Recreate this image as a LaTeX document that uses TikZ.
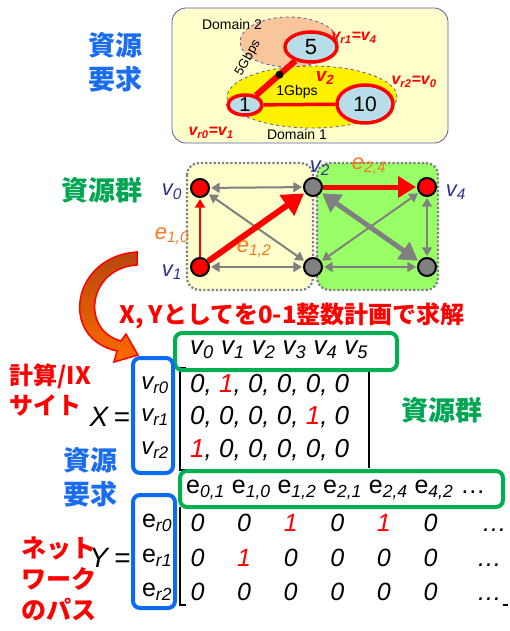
\documentclass[tikz,border=0pt]{standalone}
\usepackage{fontspec}
\setmainfont{Liberation Sans}
\newfontfamily\jp{Noto Sans CJK JP}
\usetikzlibrary{shapes.geometric, arrows.meta, positioning}

\definecolor{panelfill}{HTML}{FFFFCC}
\definecolor{panelline}{HTML}{5B5BA8}
\definecolor{dtwofill}{HTML}{F9C59B}
\definecolor{sitefill}{HTML}{B7DDE8}
\definecolor{vblue}{HTML}{2E3192}
\definecolor{eorange}{HTML}{F7791E}
\definecolor{grpgreen}{HTML}{99FF66}
\definecolor{edgegray}{HTML}{808080}
\definecolor{jblue}{HTML}{1A6CF2}
\definecolor{jgreen}{HTML}{00A651}
\definecolor{boxgreen}{HTML}{00B050}
\definecolor{boxblue}{HTML}{0A6CF5}
\definecolor{arrowtop}{HTML}{B5470F}
\definecolor{arrowbot}{HTML}{FF6A00}

\newcommand{\fsz}[1]{\fontsize{#1}{\fpeval{1.25*#1}}\selectfont}
\newcommand{\vsub}[2]{\textit{#1}\textsubscript{\textit{#2}}}
\newcommand{\esub}[1]{e\textsubscript{\textit{#1}}}
\newcommand{\one}{\textcolor{red}{1}}
\newcommand{\ycell}[1]{\makebox[46.6pt]{#1}}

\begin{document}
\begin{tikzpicture}[x=1pt, y=-1pt, >=Triangle]
    \tikzset{
        site/.style={ellipse, draw=red, line width=3.5pt, fill=sitefill, inner sep=0pt},
        dom/.style={ellipse, draw=panelline, dashed, line width=0.8pt},
        vx/.style={circle, draw=black, line width=2pt, minimum size=18pt, inner sep=0pt},
        grp/.style={draw=edgegray, dotted, line width=2.2pt, rounded corners=12pt},
        gedge/.style={<->, draw=edgegray, line width=2pt, shorten >=1pt, shorten <=1pt},
        redge/.style={->, draw=red, shorten >=1pt},
        redlab/.style={text=red, font=\bfseries\itshape\fsz{16}},
        vlab/.style={text=vblue, font=\itshape\fsz{22}},
        elab/.style={text=eorange, font=\itshape\fsz{22}},
        jtext/.style={font=\jp\bfseries\fsz{27}, align=center},
        mtx/.style={font=\itshape\fsz{26}, anchor=west, inner sep=0pt},
        bbox/.style={draw=boxblue, line width=4pt, rounded corners=7pt},
        gbox/.style={draw=boxgreen, line width=4pt, rounded corners=7pt},
        brk/.style={draw=black, line width=1.5pt},
    }
    \useasboundingbox (0,0) rectangle (509,631);

    % resource request
    \draw[panelline, fill=panelfill, rounded corners=14pt, line width=0.8pt] (172,8) rectangle (448,143);
    \node[dom, fill=dtwofill, minimum width=98pt, minimum height=50pt] (d2) at (289,42) {};
    \node[dom, fill=yellow, minimum width=170pt, minimum height=62pt] (d1) at (312,97) {};
    \node[font=\fsz{14}] (d2lab) at (232,24) {Domain 2};
    \node[font=\fsz{14}] (d1lab) at (297,134) {Domain 1};
    \node[site, minimum width=52pt, minimum height=30pt, font=\fsz{22}] (s5) at (311,47) {5};
    \node[site, minimum width=34pt, minimum height=20pt, font=\fsz{20}] (s1) at (245,105) {1};
    \node[site, minimum width=56pt, minimum height=38pt, font=\fsz{21}] (s10) at (365,104) {10};
    \draw[red, line width=6pt] (s1) -- node[pos=0.6, circle, fill=black, minimum size=8pt, inner sep=0pt] (gw) {} (s5);
    \draw[red, line width=3.5pt] (s1) -- (s10);
    \node[font=\fsz{13}, rotate=60, inner sep=1pt] (bw5) at (248,58) {5Gbps};
    \node[font=\fsz{14}] (bw1) at (297,92) {1Gbps};
    \node[redlab, anchor=west] (m1) at (328,38) {\vsub{v}{r1}=\vsub{v}{4}};
    \node[redlab, anchor=west] (m2) at (388,82) {\vsub{v}{r2}=\vsub{v}{0}};
    \node[redlab] (m0) at (211,133) {\vsub{v}{r0}=\vsub{v}{1}};
    \node[redlab, font=\bfseries\itshape\fsz{19}] (mv2) at (325,78) {\vsub{v}{2}};
    \node[jtext, text=jblue] (req) at (115,62) {資源\\要求};

    % resource pool
    \draw[grp, fill=panelfill] (187,163) rectangle (313,290);
    \draw[grp, fill=grpgreen] (317,163) rectangle (438,290);
    \node[vx, fill=red] (n0) at (200,188) {};
    \node[vx, fill=red] (n1) at (200,267) {};
    \node[vx, fill=edgegray] (n2) at (313,187) {};
    \node[vx, fill=edgegray] (n3) at (313,267) {};
    \node[vx, fill=red] (n4) at (427,187) {};
    \node[vx, fill=edgegray] (n5) at (427,267) {};
    \draw[gedge] (n0) -- (n2);
    \draw[gedge] (n1) -- (n3);
    \draw[gedge] (n3) -- (n5);
    \draw[gedge] (n0) -- (n3);
    \draw[gedge] (n3) -- (n4);
    \draw[gedge] (n4) -- (n5);
    \draw[gedge, line width=5pt] (n2) -- (n5);
    \draw[redge, line width=2pt] (n1) -- (n0);
    \draw[redge, line width=6pt] (n1) -- (n2);
    \draw[redge, line width=5pt] (n2) -- (n4);
    \node[vlab] (l0) at (172,192) {\vsub{v}{0}};
    \node[vlab] (l1) at (172,272) {\vsub{v}{1}};
    \node[vlab] (l2) at (320,168) {\vsub{v}{2}};
    \node[vlab] (l4) at (456,192) {\vsub{v}{4}};
    \node[elab] (e10) at (172,236) {\vsub{e}{1,0}};
    \node[elab] (e12) at (254,249) {\vsub{e}{1,2}};
    \node[elab] (e24) at (369,166) {\vsub{e}{2,4}};
    \node[jtext, text=jgreen] (pool) at (102,190) {資源群};

    % solve
    \draw[red, line width=1.5pt, top color=arrowtop, bottom color=arrowbot]
        (137,252) .. controls (72,256) and (58,338) .. (117,351)
        -- (114,362) -- (138,355) -- (126,334) -- (121,341)
        .. controls (80,330) and (88,268) .. (137,265) -- cycle;
    \node[jtext, text=red, font=\jp\bfseries\fsz{24}] (title) at (292,316) {X, Yとしてを0-1整数計画で求解};

    % matrix X
    \draw[brk] (186,368) -- (180,368) -- (180,470) -- (186,470);
    \draw[brk] (369,372) -- (369,468);
    \draw[gbox] (175,333) rectangle (397,370);
    \draw[bbox] (133,358) rectangle (173,473);
    \node[mtx] (xh) at (190,350) {\vsub{v}{0} \vsub{v}{1} \vsub{v}{2} \vsub{v}{3} \vsub{v}{4} \vsub{v}{5}};
    \node[font=\itshape\fsz{24}] (xr0) at (155,385) {\vsub{v}{r0}};
    \node[font=\itshape\fsz{24}] (xr1) at (155,417) {\vsub{v}{r1}};
    \node[font=\itshape\fsz{24}] (xr2) at (155,450) {\vsub{v}{r2}};
    \node[mtx] (x0) at (190,385) {0, \one, 0, 0, 0, 0};
    \node[mtx] (x1) at (190,417) {0, 0, 0, 0, \one, 0};
    \node[mtx] (x2) at (190,450) {\one, 0, 0, 0, 0, 0};
    \node[font=\fsz{28}] (xeq) at (110,417) {\textit{X}\,=};
    \node[jtext, text=red, align=left, anchor=west, font=\jp\bfseries\fsz{24}] (site) at (6,390) {計算/IX\\サイト};
    \node[jtext, text=jgreen] (pool2) at (442,410) {資源群};
    \node[jtext, text=jblue] (req2) at (90,477) {資源\\要求};

    % matrix Y
    \draw[brk] (180,507) -- (180,605) -- (186,605);
    \draw[brk] (503,605) -- (508,605);
    \draw[gbox] (180,471) rectangle (503,507);
    \draw[bbox] (133,495) rectangle (175,608);
    \node[mtx, font=\fsz{25}] (yh) at (186,490) {\esub{0,1} \esub{1,0} \esub{1,2} \esub{2,1} \esub{2,4} \esub{4,2} \ldots};
    \node[font=\fsz{25}] (yr0) at (157,523) {\esub{r0}};
    \node[font=\fsz{25}] (yr1) at (157,558) {\esub{r1}};
    \node[font=\fsz{25}] (yr2) at (157,592) {\esub{r2}};
    \node[mtx, font=\itshape\fsz{25}] (y0) at (174,523) {\ycell{0}\ycell{0}\ycell{\one}\ycell{0}\ycell{\one}\ycell{0}\hspace{28pt}\ldots};
    \node[mtx, font=\itshape\fsz{25}] (y1) at (174,558) {\ycell{0}\ycell{\one}\ycell{0}\ycell{0}\ycell{0}\ycell{0}\hspace{23pt}\ldots};
    \node[mtx, font=\itshape\fsz{25}] (y2) at (174,592) {\ycell{0}\ycell{0}\ycell{0}\ycell{0}\ycell{0}\ycell{0}\hspace{23pt}\ldots};
    \node[font=\fsz{28}] (yeq) at (110,558) {\textit{Y}\,=};
    \node[jtext, text=red, align=left, anchor=west, font=\jp\bfseries\fsz{25}] (path) at (18,579) {ネット\\ワーク\\のパス};
\end{tikzpicture}
\end{document}
